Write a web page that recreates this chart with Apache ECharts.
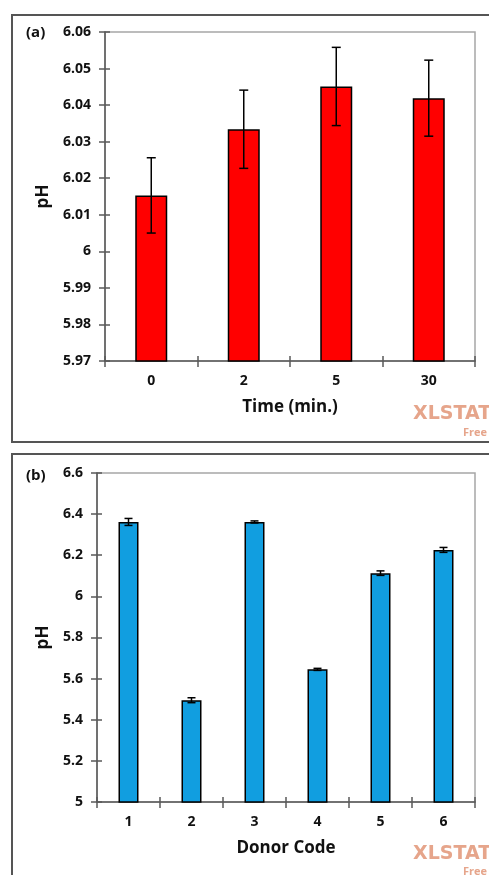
<!DOCTYPE html>
<html>
<head>
<meta charset="utf-8">
<script src="https://cdn.jsdelivr.net/npm/echarts@6/dist/echarts.min.js"></script>
<style>
  html, body { margin: 0; padding: 0; background: #fff; }
  #chart { width: 489px; height: 875px; }
</style>
</head>
<body>
<div id="chart"></div>
<script>
// ---- Data ----
const timeCategories = ['0', '2', '5', '30'];
const phTime = [6.0153, 6.0334, 6.0451, 6.0419];
const errTime = [0.0103, 0.0107, 0.0107, 0.0104];

const donorCategories = ['1', '2', '3', '4', '5', '6'];
const phDonor = [6.362, 5.495, 6.362, 5.645, 6.113, 6.226];
const errDonor = [0.017, 0.012, 0.005, 0.005, 0.011, 0.012];

const yTicksA = { min: 5.97, max: 6.06, interval: 0.01 };
const yTicksB = { min: 5.0, max: 6.6, interval: 0.2 };

// ---- Helpers ----
const FONT = 'Open Sans';
const labelColor = '#111111';
const axisDark = '#595959';

function fmt(v) { return String(parseFloat(Number(v).toFixed(2))); }

function errData(vals, errs) {
  return vals.map((v, i) => [i, v - errs[i], v + errs[i]]);
}

function errRender(capHalf) {
  return function (params, api) {
    const x = api.value(0);
    const lo = api.coord([x, api.value(1)]);
    const hi = api.coord([x, api.value(2)]);
    const st = { stroke: '#000', lineWidth: 1.5 };
    return {
      type: 'group',
      children: [
        { type: 'line', shape: { x1: lo[0], y1: lo[1], x2: hi[0], y2: hi[1] }, style: st },
        { type: 'line', shape: { x1: hi[0] - capHalf, y1: hi[1], x2: hi[0] + capHalf, y2: hi[1] }, style: st },
        { type: 'line', shape: { x1: lo[0] - capHalf, y1: lo[1], x2: lo[0] + capHalf, y2: lo[1] }, style: st }
      ]
    };
  };
}

function mainY(gridIndex, t, gap) {
  return {
    type: 'value', gridIndex: gridIndex, position: 'left',
    min: t.min, max: t.max, interval: t.interval,
    name: 'pH', nameLocation: 'middle', nameGap: gap, nameRotate: 90,
    nameTextStyle: { fontFamily: FONT, fontWeight: 'bold', fontSize: 17, color: labelColor },
    axisLine: { show: true, lineStyle: { color: axisDark, width: 1.5 } },
    axisTick: { show: true, inside: false, length: 6, lineStyle: { color: axisDark, width: 1.5 } },
    axisLabel: { margin: 14, formatter: fmt, fontFamily: FONT, fontWeight: 'bold', fontSize: 14, color: labelColor },
    splitLine: { show: false }
  };
}
function innerY(gridIndex, t) {
  return {
    type: 'value', gridIndex: gridIndex, position: 'left', offset: 0,
    min: t.min, max: t.max, interval: t.interval,
    axisLine: { show: false },
    axisTick: { show: true, inside: true, length: 5, lineStyle: { color: axisDark, width: 1.5 } },
    axisLabel: { show: false },
    splitLine: { show: false }
  };
}
function mainX(gridIndex, cats, name) {
  return {
    type: 'category', gridIndex: gridIndex, position: 'bottom', data: cats,
    name: name, nameLocation: 'middle', nameGap: 38,
    nameTextStyle: { fontFamily: FONT, fontWeight: 'bold', fontSize: 17, color: labelColor },
    axisLine: { show: true, lineStyle: { color: axisDark, width: 1.5 } },
    axisTick: { show: true, inside: false, length: 6, lineStyle: { color: axisDark, width: 1.5 } },
    axisLabel: { margin: 13, fontFamily: FONT, fontWeight: 'bold', fontSize: 14, color: labelColor },
    splitLine: { show: false }
  };
}
function innerX(gridIndex, cats) {
  return {
    type: 'category', gridIndex: gridIndex, position: 'bottom', offset: 0, data: cats,
    axisLine: { show: false },
    axisTick: { show: true, inside: true, length: 5, lineStyle: { color: axisDark, width: 1.5 } },
    axisLabel: { show: false },
    splitLine: { show: false }
  };
}

const chart = echarts.init(document.getElementById('chart'), null, { renderer: 'canvas' });

const option = {
  backgroundColor: '#ffffff',
  animation: false,
  grid: [
    { left: 105, top: 32, width: 370, height: 329, show: true, borderColor: '#a6a6a6', borderWidth: 1.5, backgroundColor: 'transparent' },
    { left: 97, top: 473, width: 378, height: 329, show: true, borderColor: '#a6a6a6', borderWidth: 1.5, backgroundColor: 'transparent' }
  ],
  xAxis: [
    mainX(0, timeCategories, 'Time (min.)'),
    innerX(0, timeCategories),
    mainX(1, donorCategories, 'Donor Code'),
    innerX(1, donorCategories)
  ],
  yAxis: [
    mainY(0, yTicksA, 52),
    innerY(0, yTicksA),
    mainY(1, yTicksB, 44),
    innerY(1, yTicksB)
  ],
  series: [
    {
      type: 'bar', xAxisIndex: 0, yAxisIndex: 0, data: phTime, barWidth: 32,
      itemStyle: { color: '#ff0000', borderColor: '#000', borderWidth: 1.5 },
      clip: true
    },
    {
      type: 'custom', xAxisIndex: 0, yAxisIndex: 0, data: errData(phTime, errTime),
      renderItem: errRender(4.5), z: 5
    },
    {
      type: 'bar', xAxisIndex: 2, yAxisIndex: 2, data: phDonor, barWidth: 20,
      itemStyle: { color: '#119ee0', borderColor: '#000', borderWidth: 1.5 },
      clip: true
    },
    {
      type: 'custom', xAxisIndex: 2, yAxisIndex: 2, data: errData(phDonor, errDonor),
      renderItem: errRender(4), z: 5
    }
  ],
  graphic: [
    { type: 'rect', silent: true, shape: { x: 12, y: 15, width: 520, height: 427 }, style: { fill: 'none', stroke: '#555555', lineWidth: 2 } },
    { type: 'rect', silent: true, shape: { x: 12, y: 454, width: 520, height: 440 }, style: { fill: 'none', stroke: '#555555', lineWidth: 2 } },
    { type: 'text', left: 26, top: 25, style: { text: '(a)', font: 'bold 15px "Open Sans"', fill: labelColor } },
    { type: 'text', left: 26, top: 468, style: { text: '(b)', font: 'bold 15px "Open Sans"', fill: labelColor } },
    { type: 'text', left: 413, top: 405, style: { text: 'XLSTAT', font: 'bold 19px "DejaVu Sans"', fill: '#e6a58b' } },
    { type: 'text', left: 463, top: 427, style: { text: 'Free', font: 'bold 11px "Open Sans"', fill: '#e6a58b' } },
    { type: 'text', left: 413, top: 845, style: { text: 'XLSTAT', font: 'bold 19px "DejaVu Sans"', fill: '#e6a58b' } },
    { type: 'text', left: 463, top: 866, style: { text: 'Free', font: 'bold 11px "Open Sans"', fill: '#e6a58b' } }
  ]
};

chart.setOption(option);
</script>
</body>
</html>
